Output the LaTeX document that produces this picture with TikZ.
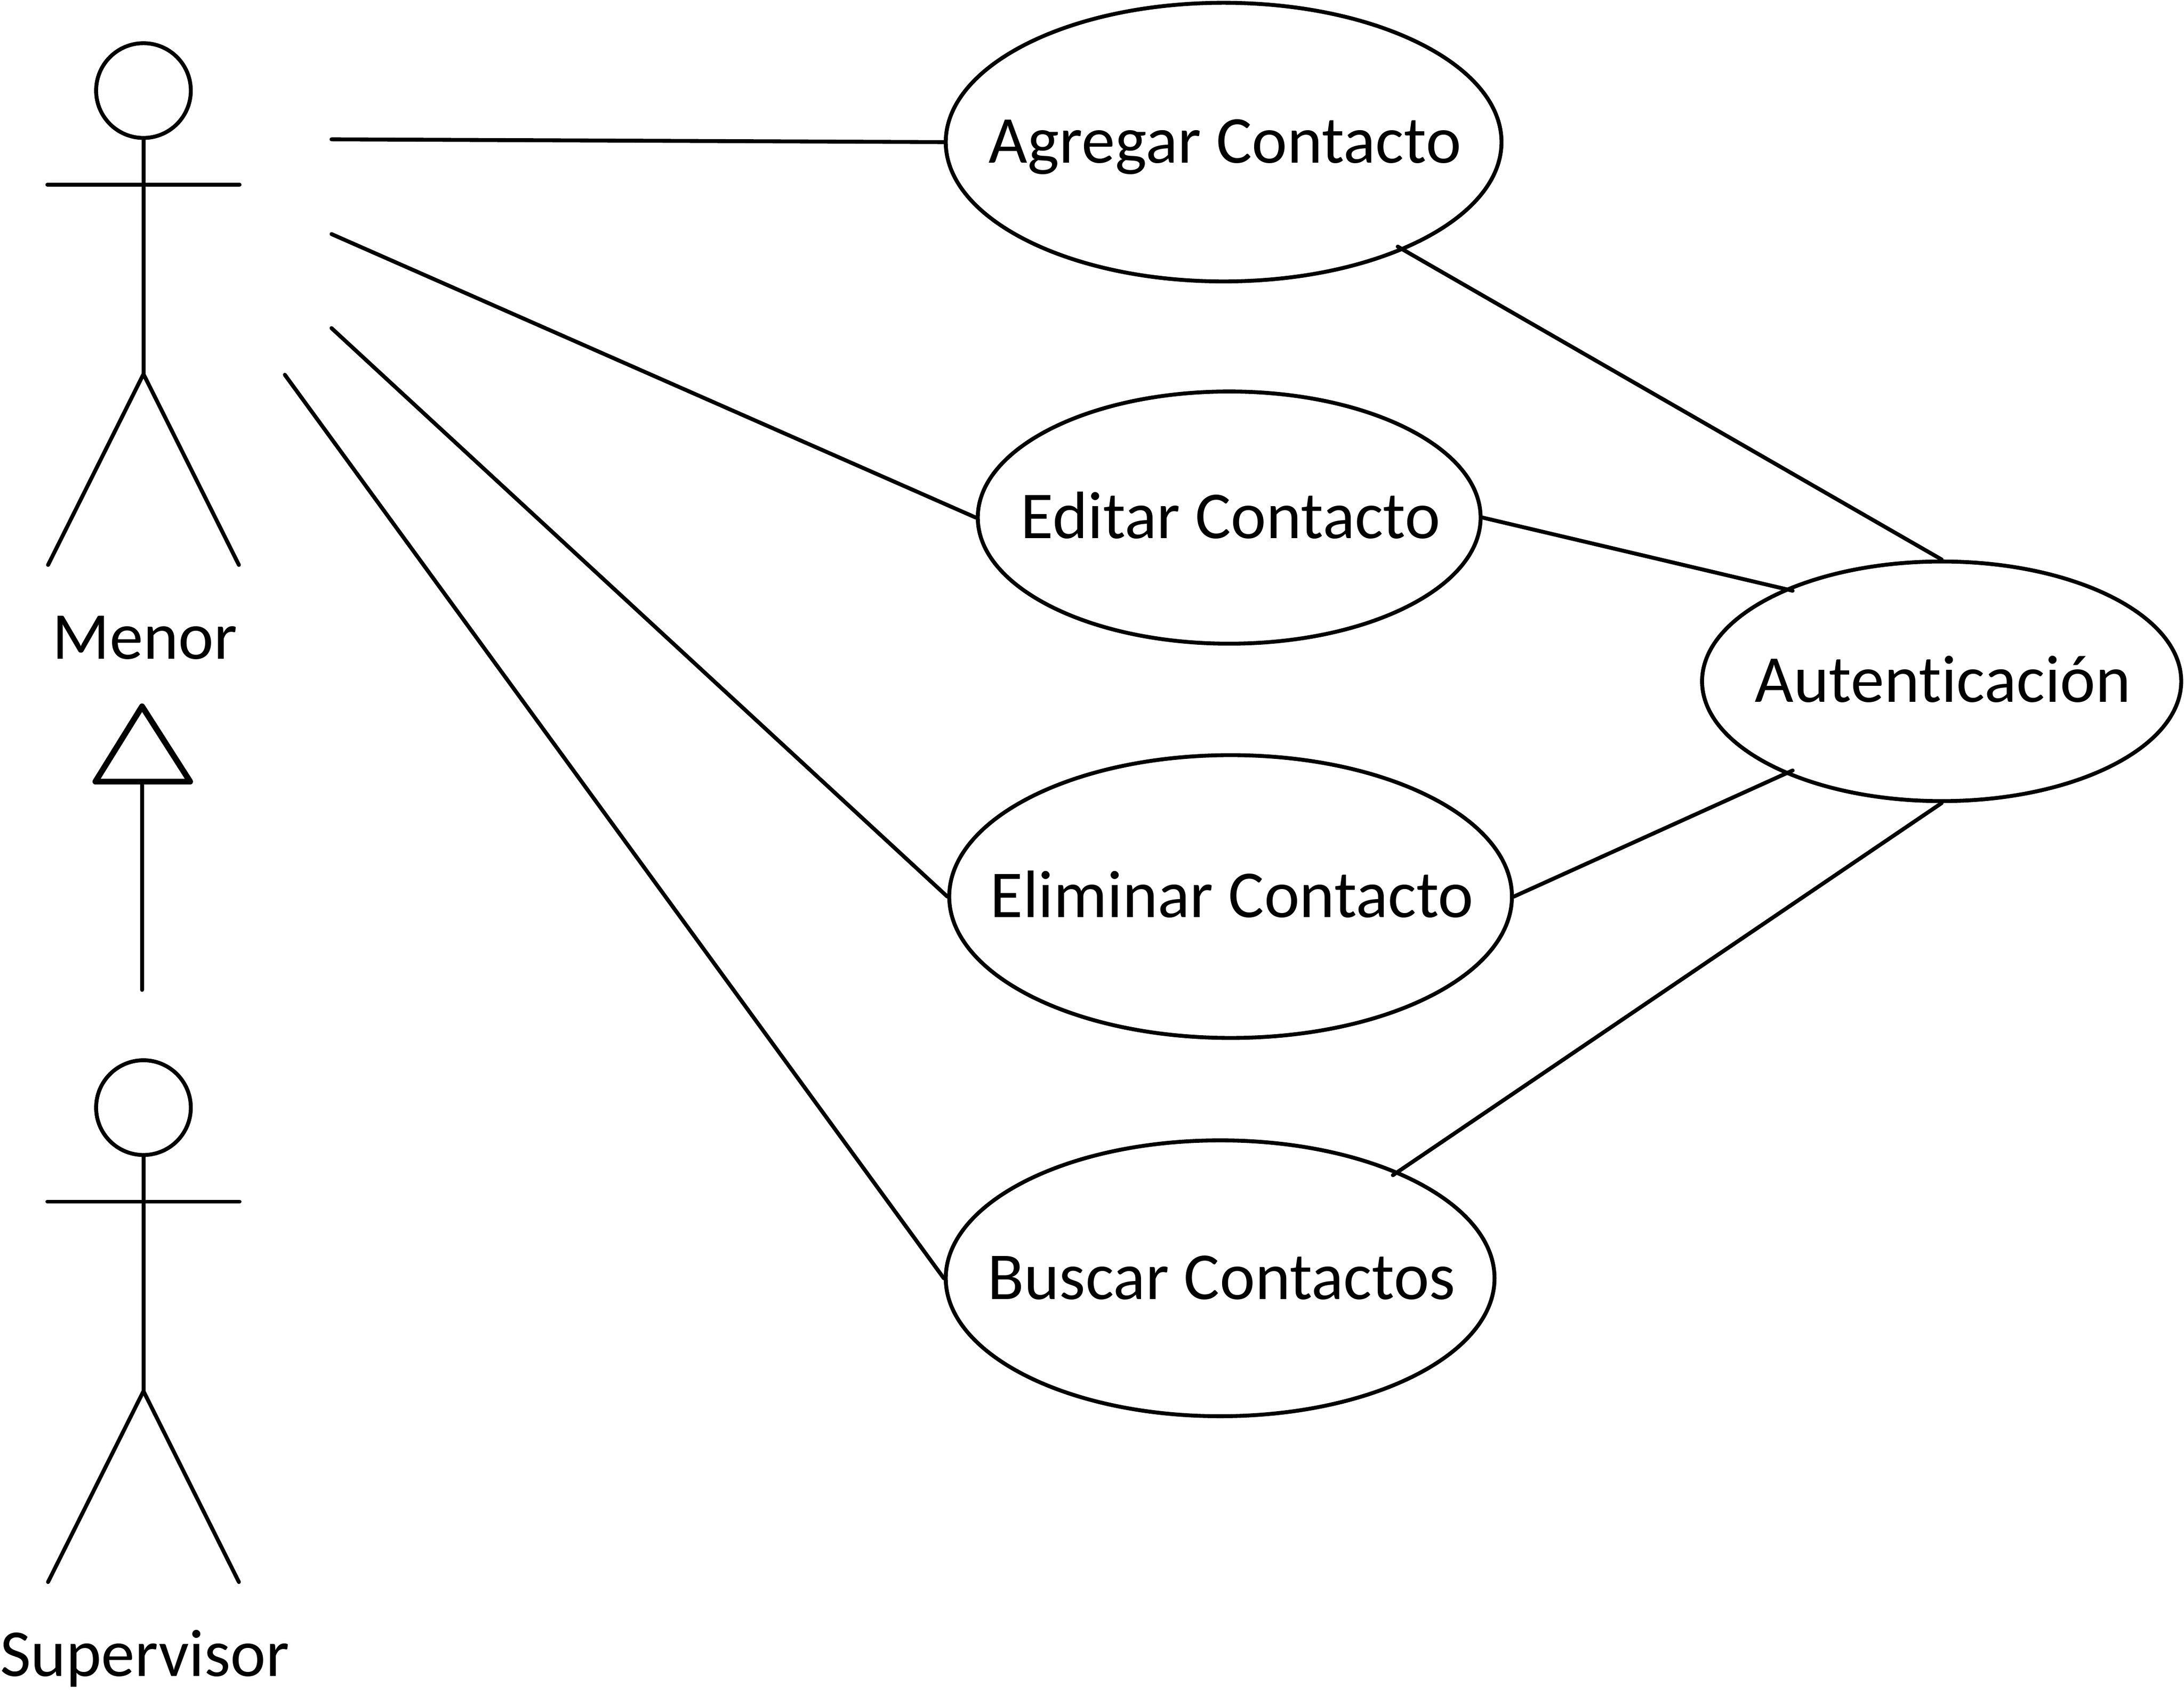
\documentclass[tikz,border=0pt]{standalone}
\usepackage{fontspec}
\setmainfont[Ligatures=NoCommon]{Carlito}
\usetikzlibrary{shapes.geometric}
\newcommand{\ctext}[1]{\makebox[0pt]{\hspace{0.2mm}\smash{\raisebox{-1.5mm}{#1}}}}
\tikzset{
  lbl/.style={font=\fontsize{13.7pt}{16pt}\selectfont, inner sep=0pt},
  usecase/.style={draw=black, ellipse, line width=0.8pt, inner sep=0pt, font=\fontsize{13.7pt}{16pt}\selectfont},
  ln/.style={draw=black, line width=0.8pt, line cap=round},
  head/.style={draw=black, circle, line width=0.8pt, inner sep=0pt, minimum size=6.8mm}
}
\begin{document}
\begin{tikzpicture}[x=0.1mm,y=-0.1mm]
\useasboundingbox (0,0) rectangle (1568,1217.7);
% Actors
\node[head] (h1) at (103,65) {};
\coordinate (n1) at (103,268.5);
\coordinate (al1) at (34,132.5);
\coordinate (ar1) at (172,132.5);
\coordinate (ll1) at (34.5,405.5);
\coordinate (lr1) at (171.5,405.5);
\draw[ln] (h1.south) -- (n1);
\draw[ln] (al1) -- (ar1);
\draw[ln] (ll1) -- (n1) -- (lr1);
\node[lbl] (menor) at (103,458) {\ctext{Menor}};
\node[head] (h2) at (103,795) {};
\coordinate (n2) at (103,998.5);
\coordinate (al2) at (34,862.5);
\coordinate (ar2) at (172,862.5);
\coordinate (ll2) at (34.5,1135.5);
\coordinate (lr2) at (171.5,1135.5);
\draw[ln] (h2.south) -- (n2);
\draw[ln] (al2) -- (ar2);
\draw[ln] (ll2) -- (n2) -- (lr2);
\node[lbl] (sup) at (103,1188) {\ctext{Supervisor}};
% Generalisation
\coordinate (tA) at (102,507);
\coordinate (tL) at (68.5,561);
\coordinate (tR) at (136.5,561);
\coordinate (tB) at (102,561);
\coordinate (gen) at (102,710.5);
\draw[ln] (gen) -- (tB);
\draw[draw=black, line width=1.2pt, line join=round] (tA) -- (tL) -- (tR) -- cycle;
% Use cases
\node[usecase, minimum width=39.9mm, minimum height=20mm] (a) at (878.5,102) {\ctext{Agregar Contacto}};
\node[usecase, minimum width=36.1mm, minimum height=18.1mm] (e) at (882.5,371.5) {\ctext{Editar Contacto}};
\node[usecase, minimum width=40.4mm, minimum height=20.3mm] (d) at (883.5,643.5) {\ctext{Eliminar Contacto}};
\node[usecase, minimum width=39.4mm, minimum height=19.8mm] (b) at (876,917.5) {\ctext{Buscar Contactos}};
\node[usecase, minimum width=34.4mm, minimum height=17.2mm] (au) at (1394,489) {\ctext{Autenticación}};
% Actor links
\coordinate (f1) at (238,100);
\coordinate (f2) at (238,168);
\coordinate (f3) at (238,235.5);
\coordinate (f4) at (204.5,269);
\draw[ln] (f1) -- (a.west);
\draw[ln] (f2) -- (e.west);
\draw[ln] (f3) -- (d.west);
\draw[ln] (f4) -- (b.west);
% Auth links
\draw[ln] ([shift={(125,75)}]a.center) -- (au.north);
\draw[ln] (e.east) -- ([shift={(-107,-65)}]au.center);
\draw[ln] (d.east) -- ([shift={(-107,64)}]au.center);
\draw[ln] ([shift={(124,-74)}]b.center) -- (au.south);
\end{tikzpicture}
\end{document}
